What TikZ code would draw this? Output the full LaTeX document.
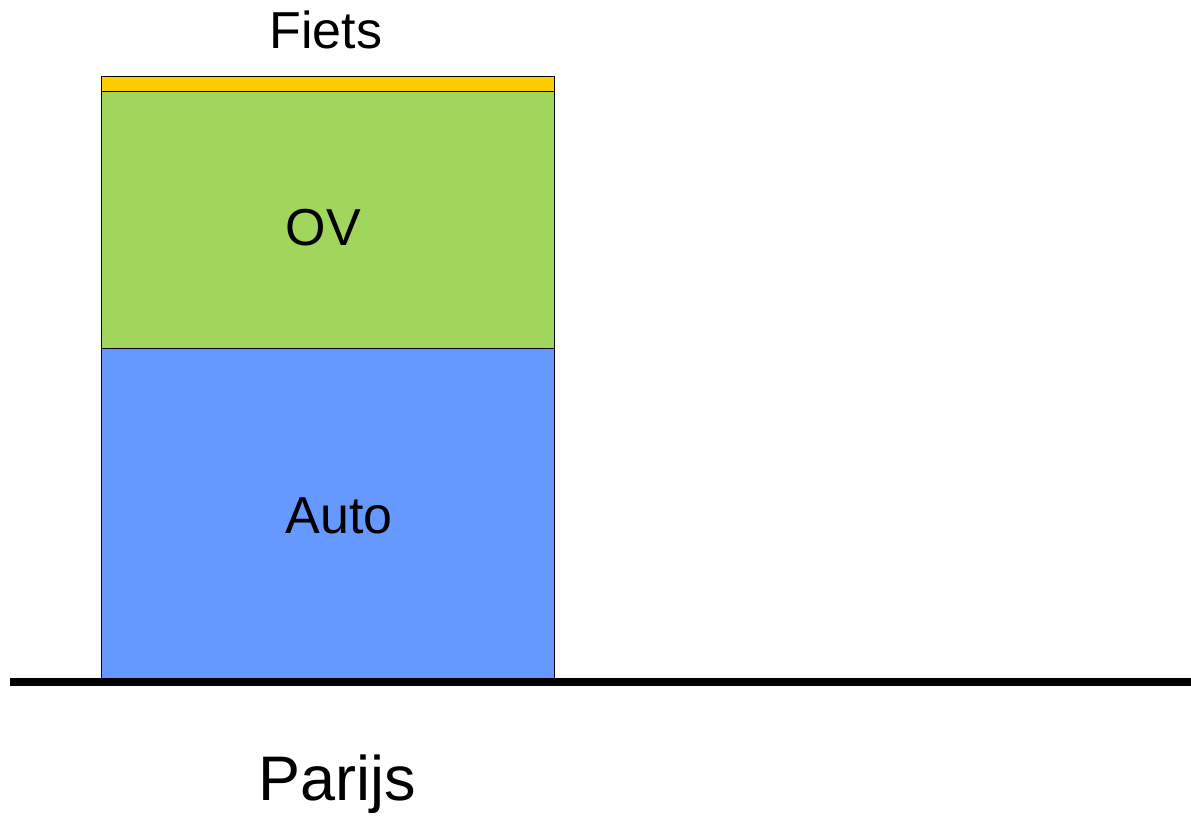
\documentclass[tikz,border=0pt]{standalone}
\usepackage{fontspec}
\setmainfont{Liberation Sans}
\usetikzlibrary{positioning}
\definecolor{FietsGeel}{HTML}{FFCC00}
\definecolor{OVGroen}{HTML}{A0D65C}
\definecolor{AutoBlauw}{HTML}{6699FF}

\begin{document}
\begin{tikzpicture}[x=1pt, y=-1pt, segment/.style={rectangle, draw, line width=1pt, minimum width=453pt, inner sep=0pt, outer sep=0pt}, modal/.style={font=\fontsize{52}{60}\selectfont, inner sep=0pt, anchor=base}]

        \useasboundingbox (0,0) rectangle (1191,815);

        \node[segment, fill=AutoBlauw, minimum height=330pt, anchor=south west] (auto) at (101,678) {};
        \node[segment, fill=OVGroen, minimum height=257pt, above=0pt of auto] (ov) {};
        \node[segment, fill=FietsGeel, minimum height=15pt, above=0pt of ov] (fiets) {};

        \node[modal] (autotxt) at (339,533) {Auto};
        \node[modal] (ovtxt) at (323.5,245) {OV};
        \node[modal] (fietstxt) at (326,48) {Fiets};
        \node[modal, font=\fontsize{63}{72}\selectfont] (parijs) at (337.5,800) {Parijs};

        \coordinate (links) at (10,681.5);
        \coordinate (rechts) at (1191,681.5);
        \draw[line width=8pt] (links) -- (rechts);

    \end{tikzpicture}
\end{document}
